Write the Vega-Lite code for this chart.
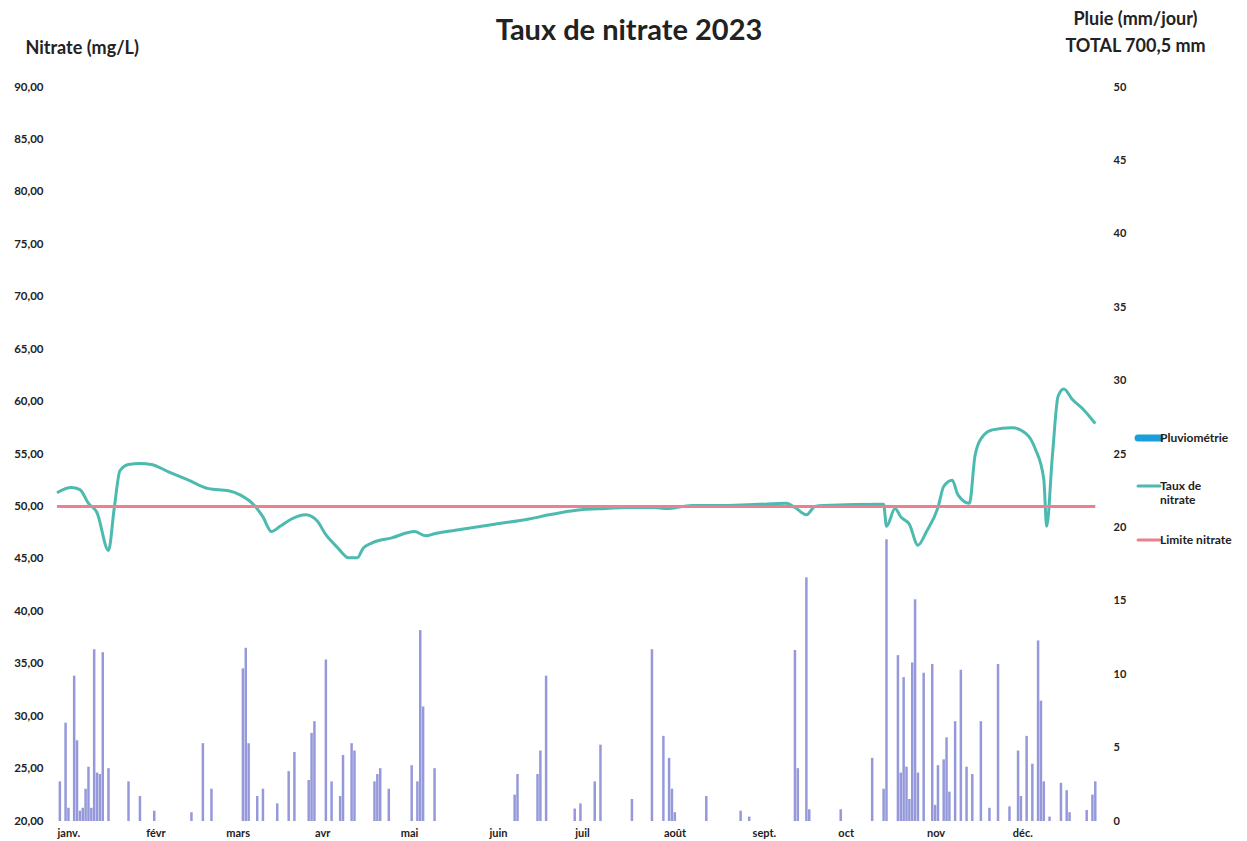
{
  "$schema": "https://vega.github.io/schema/vega-lite/v6.json",
  "width": 1054,
  "height": 734,
  "autosize": {"type": "none"},
  "padding": {"left": 52, "top": 87, "right": 141, "bottom": 20},
  "background": "white",
  "config": {"font": "Lato", "view": {"stroke": null}},
  "title": {"text": "Taux de nitrate 2023", "font": "Lato", "fontSize": 29, "fontWeight": "bold", "color": "#222222", "anchor": "middle", "dx": 50, "offset": -36},
  "datasets": {
    "pluie": [
      {"date": "2023-01-02", "mm": 2.7}, {"date": "2023-01-04", "mm": 6.7}, {"date": "2023-01-05", "mm": 0.9},
      {"date": "2023-01-07", "mm": 9.9}, {"date": "2023-01-08", "mm": 5.5}, {"date": "2023-01-09", "mm": 0.7},
      {"date": "2023-01-10", "mm": 0.9}, {"date": "2023-01-11", "mm": 2.2}, {"date": "2023-01-12", "mm": 3.7},
      {"date": "2023-01-13", "mm": 0.9}, {"date": "2023-01-14", "mm": 11.7}, {"date": "2023-01-15", "mm": 3.3},
      {"date": "2023-01-16", "mm": 3.2}, {"date": "2023-01-17", "mm": 11.5}, {"date": "2023-01-19", "mm": 3.6},
      {"date": "2023-01-26", "mm": 2.7}, {"date": "2023-01-30", "mm": 1.7}, {"date": "2023-02-04", "mm": 0.7},
      {"date": "2023-02-17", "mm": 0.6}, {"date": "2023-02-21", "mm": 5.3}, {"date": "2023-02-24", "mm": 2.2},
      {"date": "2023-03-07", "mm": 10.4}, {"date": "2023-03-08", "mm": 11.8}, {"date": "2023-03-09", "mm": 5.3},
      {"date": "2023-03-12", "mm": 1.7}, {"date": "2023-03-14", "mm": 2.2}, {"date": "2023-03-19", "mm": 1.2},
      {"date": "2023-03-23", "mm": 3.4}, {"date": "2023-03-25", "mm": 4.7}, {"date": "2023-03-30", "mm": 2.8},
      {"date": "2023-03-31", "mm": 6.0}, {"date": "2023-04-01", "mm": 6.8}, {"date": "2023-04-05", "mm": 11.0},
      {"date": "2023-04-07", "mm": 2.7}, {"date": "2023-04-10", "mm": 1.7}, {"date": "2023-04-11", "mm": 4.5},
      {"date": "2023-04-14", "mm": 5.3}, {"date": "2023-04-15", "mm": 4.8}, {"date": "2023-04-22", "mm": 2.7},
      {"date": "2023-04-23", "mm": 3.2}, {"date": "2023-04-24", "mm": 3.6}, {"date": "2023-04-27", "mm": 2.2},
      {"date": "2023-05-05", "mm": 3.8}, {"date": "2023-05-07", "mm": 2.7}, {"date": "2023-05-08", "mm": 13.0},
      {"date": "2023-05-09", "mm": 7.8}, {"date": "2023-05-13", "mm": 3.6}, {"date": "2023-06-10", "mm": 1.8},
      {"date": "2023-06-11", "mm": 3.2}, {"date": "2023-06-18", "mm": 3.2}, {"date": "2023-06-19", "mm": 4.8},
      {"date": "2023-06-21", "mm": 9.9}, {"date": "2023-07-01", "mm": 0.85}, {"date": "2023-07-03", "mm": 1.2},
      {"date": "2023-07-08", "mm": 2.7}, {"date": "2023-07-10", "mm": 5.2}, {"date": "2023-07-21", "mm": 1.5},
      {"date": "2023-07-28", "mm": 11.7}, {"date": "2023-08-01", "mm": 5.8}, {"date": "2023-08-03", "mm": 4.3},
      {"date": "2023-08-04", "mm": 2.2}, {"date": "2023-08-05", "mm": 0.6}, {"date": "2023-08-16", "mm": 1.7},
      {"date": "2023-08-28", "mm": 0.7}, {"date": "2023-08-31", "mm": 0.3}, {"date": "2023-09-16", "mm": 11.65},
      {"date": "2023-09-17", "mm": 3.6}, {"date": "2023-09-20", "mm": 16.6}, {"date": "2023-09-21", "mm": 0.8},
      {"date": "2023-10-02", "mm": 0.8}, {"date": "2023-10-13", "mm": 4.3}, {"date": "2023-10-17", "mm": 2.2},
      {"date": "2023-10-18", "mm": 19.2}, {"date": "2023-10-22", "mm": 11.3}, {"date": "2023-10-23", "mm": 3.3},
      {"date": "2023-10-24", "mm": 9.8}, {"date": "2023-10-25", "mm": 3.7}, {"date": "2023-10-26", "mm": 1.5},
      {"date": "2023-10-27", "mm": 10.8}, {"date": "2023-10-28", "mm": 15.1}, {"date": "2023-10-29", "mm": 3.3},
      {"date": "2023-10-31", "mm": 10.1}, {"date": "2023-11-03", "mm": 10.7}, {"date": "2023-11-04", "mm": 1.1},
      {"date": "2023-11-05", "mm": 3.8}, {"date": "2023-11-07", "mm": 4.2}, {"date": "2023-11-08", "mm": 5.7},
      {"date": "2023-11-09", "mm": 2.0}, {"date": "2023-11-11", "mm": 6.8}, {"date": "2023-11-13", "mm": 10.3},
      {"date": "2023-11-15", "mm": 3.7}, {"date": "2023-11-17", "mm": 3.2}, {"date": "2023-11-20", "mm": 6.8},
      {"date": "2023-11-23", "mm": 0.9}, {"date": "2023-11-26", "mm": 10.7}, {"date": "2023-11-30", "mm": 1.0},
      {"date": "2023-12-03", "mm": 4.8}, {"date": "2023-12-04", "mm": 1.7}, {"date": "2023-12-06", "mm": 5.8},
      {"date": "2023-12-08", "mm": 3.9}, {"date": "2023-12-10", "mm": 12.3}, {"date": "2023-12-11", "mm": 8.2},
      {"date": "2023-12-12", "mm": 2.7}, {"date": "2023-12-14", "mm": 0.3}, {"date": "2023-12-18", "mm": 2.6},
      {"date": "2023-12-20", "mm": 2.1}, {"date": "2023-12-21", "mm": 0.6}, {"date": "2023-12-27", "mm": 0.75},
      {"date": "2023-12-29", "mm": 1.8}, {"date": "2023-12-30", "mm": 2.7}
    ],
    "nitrate": [
      {"date": "2023-01-01", "valeur": 51.3, "serie": "Taux de nitrate"},
      {"date": "2023-01-06", "valeur": 51.8, "serie": "Taux de nitrate"},
      {"date": "2023-01-09", "valeur": 51.6, "serie": "Taux de nitrate"},
      {"date": "2023-01-12", "valeur": 50.3, "serie": "Taux de nitrate"},
      {"date": "2023-01-15", "valeur": 49.4, "serie": "Taux de nitrate"},
      {"date": "2023-01-19", "valeur": 45.8, "serie": "Taux de nitrate"},
      {"date": "2023-01-21", "valeur": 49.8, "serie": "Taux de nitrate"},
      {"date": "2023-01-23", "valeur": 53.4, "serie": "Taux de nitrate"},
      {"date": "2023-01-26", "valeur": 54.0, "serie": "Taux de nitrate"},
      {"date": "2023-01-30", "valeur": 54.1, "serie": "Taux de nitrate"},
      {"date": "2023-02-03", "valeur": 54.0, "serie": "Taux de nitrate"},
      {"date": "2023-02-09", "valeur": 53.3, "serie": "Taux de nitrate"},
      {"date": "2023-02-16", "valeur": 52.5, "serie": "Taux de nitrate"},
      {"date": "2023-02-23", "valeur": 51.7, "serie": "Taux de nitrate"},
      {"date": "2023-03-02", "valeur": 51.5, "serie": "Taux de nitrate"},
      {"date": "2023-03-06", "valeur": 51.1, "serie": "Taux de nitrate"},
      {"date": "2023-03-11", "valeur": 50.1, "serie": "Taux de nitrate"},
      {"date": "2023-03-14", "valeur": 49.0, "serie": "Taux de nitrate"},
      {"date": "2023-03-17", "valeur": 47.6, "serie": "Taux de nitrate"},
      {"date": "2023-03-20", "valeur": 48.1, "serie": "Taux de nitrate"},
      {"date": "2023-03-24", "valeur": 48.8, "serie": "Taux de nitrate"},
      {"date": "2023-03-29", "valeur": 49.2, "serie": "Taux de nitrate"},
      {"date": "2023-04-02", "valeur": 48.6, "serie": "Taux de nitrate"},
      {"date": "2023-04-05", "valeur": 47.3, "serie": "Taux de nitrate"},
      {"date": "2023-04-09", "valeur": 46.1, "serie": "Taux de nitrate"},
      {"date": "2023-04-13", "valeur": 45.1, "serie": "Taux de nitrate"},
      {"date": "2023-04-16", "valeur": 45.1, "serie": "Taux de nitrate"},
      {"date": "2023-04-18", "valeur": 46.0, "serie": "Taux de nitrate"},
      {"date": "2023-04-21", "valeur": 46.5, "serie": "Taux de nitrate"},
      {"date": "2023-04-28", "valeur": 47.0, "serie": "Taux de nitrate"},
      {"date": "2023-05-06", "valeur": 47.6, "serie": "Taux de nitrate"},
      {"date": "2023-05-10", "valeur": 47.2, "serie": "Taux de nitrate"},
      {"date": "2023-05-13", "valeur": 47.4, "serie": "Taux de nitrate"},
      {"date": "2023-05-22", "valeur": 47.8, "serie": "Taux de nitrate"},
      {"date": "2023-06-03", "valeur": 48.3, "serie": "Taux de nitrate"},
      {"date": "2023-06-15", "valeur": 48.8, "serie": "Taux de nitrate"},
      {"date": "2023-06-22", "valeur": 49.2, "serie": "Taux de nitrate"},
      {"date": "2023-06-26", "valeur": 49.4, "serie": "Taux de nitrate"},
      {"date": "2023-07-04", "valeur": 49.7, "serie": "Taux de nitrate"},
      {"date": "2023-07-12", "valeur": 49.8, "serie": "Taux de nitrate"},
      {"date": "2023-07-19", "valeur": 49.9, "serie": "Taux de nitrate"},
      {"date": "2023-07-29", "valeur": 49.9, "serie": "Taux de nitrate"},
      {"date": "2023-08-02", "valeur": 49.8, "serie": "Taux de nitrate"},
      {"date": "2023-08-11", "valeur": 50.1, "serie": "Taux de nitrate"},
      {"date": "2023-08-23", "valeur": 50.1, "serie": "Taux de nitrate"},
      {"date": "2023-09-03", "valeur": 50.2, "serie": "Taux de nitrate"},
      {"date": "2023-09-13", "valeur": 50.3, "serie": "Taux de nitrate"},
      {"date": "2023-09-16", "valeur": 49.9, "serie": "Taux de nitrate"},
      {"date": "2023-09-20", "valeur": 49.2, "serie": "Taux de nitrate"},
      {"date": "2023-09-23", "valeur": 50.0, "serie": "Taux de nitrate"},
      {"date": "2023-09-26", "valeur": 50.1, "serie": "Taux de nitrate"},
      {"date": "2023-10-17", "valeur": 50.2, "serie": "Taux de nitrate"},
      {"date": "2023-10-18", "valeur": 48.1, "serie": "Taux de nitrate"},
      {"date": "2023-10-21", "valeur": 49.8, "serie": "Taux de nitrate"},
      {"date": "2023-10-23", "valeur": 49.0, "serie": "Taux de nitrate"},
      {"date": "2023-10-26", "valeur": 48.3, "serie": "Taux de nitrate"},
      {"date": "2023-10-29", "valeur": 46.3, "serie": "Taux de nitrate"},
      {"date": "2023-11-01", "valeur": 47.6, "serie": "Taux de nitrate"},
      {"date": "2023-11-05", "valeur": 49.9, "serie": "Taux de nitrate"},
      {"date": "2023-11-07", "valeur": 51.9, "serie": "Taux de nitrate"},
      {"date": "2023-11-10", "valeur": 52.5, "serie": "Taux de nitrate"},
      {"date": "2023-11-12", "valeur": 51.1, "serie": "Taux de nitrate"},
      {"date": "2023-11-16", "valeur": 50.3, "serie": "Taux de nitrate"},
      {"date": "2023-11-18", "valeur": 54.9, "serie": "Taux de nitrate"},
      {"date": "2023-11-21", "valeur": 56.8, "serie": "Taux de nitrate"},
      {"date": "2023-11-24", "valeur": 57.3, "serie": "Taux de nitrate"},
      {"date": "2023-12-01", "valeur": 57.5, "serie": "Taux de nitrate"},
      {"date": "2023-12-06", "valeur": 56.9, "serie": "Taux de nitrate"},
      {"date": "2023-12-09", "valeur": 55.5, "serie": "Taux de nitrate"},
      {"date": "2023-12-12", "valeur": 52.6, "serie": "Taux de nitrate"},
      {"date": "2023-12-13", "valeur": 48.1, "serie": "Taux de nitrate"},
      {"date": "2023-12-15", "valeur": 54.8, "serie": "Taux de nitrate"},
      {"date": "2023-12-17", "valeur": 60.5, "serie": "Taux de nitrate"},
      {"date": "2023-12-19", "valeur": 61.2, "serie": "Taux de nitrate"},
      {"date": "2023-12-22", "valeur": 60.2, "serie": "Taux de nitrate"},
      {"date": "2023-12-26", "valeur": 59.2, "serie": "Taux de nitrate"},
      {"date": "2023-12-30", "valeur": 57.9, "serie": "Taux de nitrate"},
      {"date": "2023-01-01", "valeur": 50, "serie": "Limite nitrate"},
      {"date": "2023-12-30", "valeur": 50, "serie": "Limite nitrate"}
    ]
  },
  "layer": [
    {
      "data": {"name": "pluie"},
      "mark": {"type": "bar", "size": 2.5, "color": "#8a8ed6", "opacity": 0.9},
      "encoding": {
        "x": {
          "field": "date", "type": "temporal",
          "scale": {"type": "utc", "domain": [{"year": 2023, "month": 1, "date": 1, "utc": true}, {"year": 2024, "month": 1, "date": 1, "utc": true}]},
          "axis": {
            "title": null, "tickCount": "month", "domain": false, "ticks": false, "grid": false,
            "labelExpr": "utcyear(datum.value) > 2023 ? '' : ['janv.','févr','mars','avr','mai','juin','juil','août','sept.','oct','nov','déc.'][utcmonth(datum.value)]",
            "labelAlign": "left", "labelPadding": 6, "labelFontSize": 11, "labelFontWeight": "bold",
            "labelColor": "#222222", "labelFlush": false, "labelOverlap": false, "labelFont": "Lato"
          }
        },
        "y": {
          "field": "mm", "type": "quantitative",
          "scale": {"domain": [0, 50]},
          "axis": {
            "orient": "right", "values": [0, 5, 10, 15, 20, 25, 30, 35, 40, 45, 50],
            "domain": false, "ticks": false, "grid": false, "labelPadding": 7,
            "labelFontSize": 11, "labelFontWeight": "bold", "labelColor": "#222222", "labelFont": "Lato",
            "title": ["Pluie (mm/jour)", "TOTAL 700,5 mm"], "titleAngle": 0, "titleX": 29, "titleY": -77,
            "titleAlign": "center", "titleBaseline": "top", "titleFontSize": 18, "titleFontWeight": "bold",
            "titleColor": "#222222", "titleLineHeight": 27, "titleFont": "Lato"
          }
        }
      }
    },
    {
      "data": {"name": "nitrate"},
      "mark": {"type": "line", "strokeWidth": 3, "interpolate": "monotone"},
      "encoding": {
        "x": {"field": "date", "type": "temporal"},
        "y": {
          "field": "valeur", "type": "quantitative",
          "scale": {"domain": [20, 90]},
          "axis": {
            "orient": "left", "values": [20, 25, 30, 35, 40, 45, 50, 55, 60, 65, 70, 75, 80, 85, 90],
            "labelExpr": "replace(format(datum.value, '.2f'), '.', ',')",
            "domain": false, "ticks": false, "grid": false, "labelPadding": 9,
            "labelFontSize": 11.5, "labelFontWeight": "bold", "labelColor": "#222222", "labelFont": "Lato",
            "title": "Nitrate (mg/L)", "titleAngle": 0, "titleX": -27, "titleY": -39,
            "titleAlign": "left", "titleBaseline": "middle", "titleFontSize": 18, "titleFontWeight": "bold",
            "titleColor": "#222222", "titleFont": "Lato"
          }
        },
        "color": {
          "field": "serie", "type": "nominal",
          "scale": {"domain": ["Pluviométrie", "Taux de nitrate", "Limite nitrate"], "range": ["#1a9fdc", "#4dbab0", "#ec8090"]},
          "legend": {
            "orient": "none", "legendX": 1091, "legendY": 345, "title": null,
            "symbolType": "stroke", "symbolSize": 480, "symbolStrokeWidth": 3,
            "labelFontSize": 12, "labelFontWeight": "bold", "labelColor": "#222222", "labelFont": "Lato",
            "labelBaseline": "middle", "labelOffset": 5,
            "rowPadding": 28,
            "labelExpr": "datum.label == 'Taux de nitrate' ? ['Taux de', 'nitrate'] : datum.label",
            "encode": {"symbols": {"update": {"strokeWidth": {"signal": "datum.label == 'Pluviométrie' ? 7 : 3"}, "strokeCap": {"value": "round"}}}}
          }
        }
      }
    }
  ],
  "resolve": {"scale": {"y": "independent"}}
}
